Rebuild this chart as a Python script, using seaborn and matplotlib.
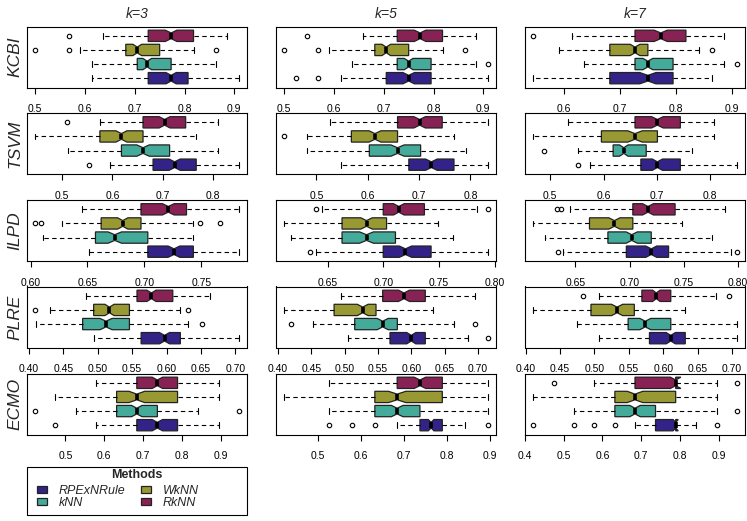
import matplotlib
matplotlib.use("Agg")
import matplotlib.pyplot as plt
from matplotlib.patches import Patch, Rectangle
from matplotlib.ticker import MultipleLocator, FormatStrFormatter
import seaborn as sns
import numpy as np

methods = ["RPExNRule", "kNN", "WkNN", "RkNN"]
datasets = ["KCBI", "TSVM", "ILPD", "PLRE", "ECMO"]
k_values = [3, 5, 7]
tick_step = [0.1, 0.1, 0.05, 0.05, 0.1]
tick_fmt = ["%.1f", "%.1f", "%.2f", "%.2f", "%.1f"]

# one row per method (RPExNRule, kNN, WkNN, RkNN):
# whisker low, Q1, median, Q3, whisker high, outliers
kcbi_k3 = [(0.614, 0.727, 0.773, 0.807, 0.909, []),
           (0.614, 0.705, 0.725, 0.773, 0.864, []),
           (0.591, 0.682, 0.705, 0.750, 0.818, [0.500, 0.568, 0.864]),
           (0.636, 0.727, 0.773, 0.818, 0.886, [0.568])]
kcbi_k5 = [(0.614, 0.705, 0.750, 0.795, 0.909, [0.523, 0.568]),
           (0.636, 0.727, 0.750, 0.795, 0.886, [0.909]),
           (0.591, 0.682, 0.705, 0.750, 0.818, [0.500, 0.568, 0.864]),
           (0.659, 0.727, 0.773, 0.818, 0.886, [0.545])]
kcbi_k7 = [(0.545, 0.682, 0.750, 0.795, 0.864, []),
           (0.636, 0.727, 0.750, 0.795, 0.886, [0.909]),
           (0.591, 0.682, 0.727, 0.750, 0.841, [0.864]),
           (0.614, 0.727, 0.773, 0.818, 0.886, [0.545])]

tsvm_k3 = [(0.595, 0.681, 0.724, 0.767, 0.852, [0.553]),
           (0.512, 0.618, 0.661, 0.714, 0.810, []),
           (0.446, 0.575, 0.618, 0.661, 0.767, []),
           (0.575, 0.661, 0.704, 0.746, 0.810, [0.510])]
tsvm_k5 = [(0.547, 0.680, 0.724, 0.768, 0.834, []),
           (0.481, 0.603, 0.658, 0.703, 0.791, []),
           (0.481, 0.568, 0.614, 0.658, 0.768, [0.437]),
           (0.526, 0.658, 0.701, 0.745, 0.834, [])]
tsvm_k7 = [(0.575, 0.670, 0.701, 0.744, 0.850, [0.553]),
           (0.553, 0.618, 0.638, 0.680, 0.766, [0.489]),
           (0.468, 0.596, 0.659, 0.701, 0.808, []),
           (0.533, 0.659, 0.701, 0.744, 0.808, [])]

ilpd_k3 = [(0.651, 0.703, 0.726, 0.743, 0.783, []),
           (0.611, 0.657, 0.674, 0.703, 0.743, []),
           (0.628, 0.662, 0.681, 0.697, 0.743, [0.604, 0.609, 0.749, 0.766]),
           (0.645, 0.697, 0.721, 0.737, 0.783, [])]
ilpd_k5 = [(0.640, 0.700, 0.720, 0.743, 0.794, [0.634]),
           (0.617, 0.663, 0.685, 0.711, 0.763, []),
           (0.611, 0.663, 0.685, 0.703, 0.749, []),
           (0.645, 0.700, 0.714, 0.737, 0.784, [0.640, 0.794])]
ilpd_k7 = [(0.639, 0.697, 0.720, 0.736, 0.794, [0.634, 0.799]),
           (0.622, 0.680, 0.702, 0.720, 0.776, []),
           (0.611, 0.663, 0.686, 0.703, 0.748, []),
           (0.645, 0.703, 0.717, 0.742, 0.788, [0.633, 0.637])]

plre_k3 = [(0.494, 0.563, 0.597, 0.620, 0.705, []),
           (0.410, 0.478, 0.512, 0.546, 0.631, [0.652]),
           (0.430, 0.494, 0.517, 0.546, 0.619, [0.409, 0.631]),
           (0.483, 0.557, 0.578, 0.609, 0.663, [])]
plre_k5 = [(0.505, 0.568, 0.600, 0.621, 0.685, [0.715]),
           (0.452, 0.515, 0.557, 0.579, 0.664, [0.420, 0.695]),
           (0.409, 0.484, 0.527, 0.547, 0.632, []),
           (0.494, 0.557, 0.589, 0.621, 0.695, [])]
plre_k7 = [(0.506, 0.580, 0.611, 0.632, 0.707, []),
           (0.475, 0.549, 0.574, 0.611, 0.707, []),
           (0.411, 0.495, 0.533, 0.558, 0.632, []),
           (0.506, 0.569, 0.590, 0.611, 0.676, [0.484, 0.695])]

ecmo_k3 = [(0.579, 0.684, 0.737, 0.789, 0.895, [0.474]),
           (0.526, 0.632, 0.684, 0.737, 0.842, [0.422, 0.947]),
           (0.474, 0.632, 0.684, 0.789, 0.895, []),
           (0.579, 0.684, 0.737, 0.789, 0.895, [])]
ecmo_k5 = [(0.684, 0.737, 0.763, 0.789, 0.842, [0.526, 0.579, 0.632, 0.895]),
           (0.526, 0.632, 0.684, 0.737, 0.895, []),
           (0.421, 0.632, 0.684, 0.789, 0.895, []),
           (0.526, 0.684, 0.737, 0.789, 0.895, [])]
ecmo_k7 = [(0.684, 0.737, 0.789, 0.789, 0.842, [0.421, 0.526, 0.579, 0.632, 0.895]),
           (0.526, 0.632, 0.684, 0.737, 0.895, [0.947]),
           (0.421, 0.632, 0.684, 0.789, 0.895, []),
           (0.579, 0.684, 0.789, 0.789, 0.895, [0.474, 0.947])]

panels = {
    "KCBI": [kcbi_k3, kcbi_k5, kcbi_k7],
    "TSVM": [tsvm_k3, tsvm_k5, tsvm_k7],
    "ILPD": [ilpd_k3, ilpd_k5, ilpd_k7],
    "PLRE": [plre_k3, plre_k5, plre_k7],
    "ECMO": [ecmo_k3, ecmo_k5, ecmo_k7],
}
n_runs = 150  # used for the notch width, as R does

sns.set_style("ticks")
palette = sns.color_palette(["#332288", "#44AA99", "#999933", "#882255"])
plt.rcParams["font.family"] = ["Liberation Sans", "DejaVu Sans"]

W, H = 747, 521
fig = plt.figure(figsize=(W / 100, H / 100), dpi=100)
col_left = [27, 276, 525]
row_top = [26.5, 113, 200, 286.5, 373.5]
pw, ph = 220, 61

for i, name in enumerate(datasets):
    for j, k in enumerate(k_values):
        ax = fig.add_axes([col_left[j] / W, 1 - (row_top[i] + ph) / H, pw / W, ph / H])
        stats = []
        for lo, q1, med, q3, hi, fl in panels[name][j]:
            half = 1.58 * (q3 - q1) / np.sqrt(n_runs)
            stats.append(dict(whislo=lo, q1=q1, med=med, q3=q3, whishi=hi,
                              fliers=fl, cilo=med - half, cihi=med + half))
        art = ax.bxp(stats, positions=[1, 2, 3, 4], widths=0.8,
                     orientation="horizontal", shownotches=True, patch_artist=True,
                     boxprops=dict(edgecolor="#222222", linewidth=0.9),
                     whiskerprops=dict(color="black", linestyle=(0, (4, 3)), linewidth=0.8),
                     capprops=dict(color="black", linewidth=0.8),
                     medianprops=dict(color="black", linewidth=2.6, solid_capstyle="butt"),
                     flierprops=dict(marker="o", markersize=3.2, markerfacecolor="none",
                                     markeredgecolor="black", markeredgewidth=0.8))
        for box, c in zip(art["boxes"], palette):
            box.set_facecolor(c)

        vals = [v for row in panels[name][j] for v in row[:5] + tuple(row[5])]
        lo, hi = min(vals), max(vals)
        pad = 0.04 * (hi - lo)
        ax.set_xlim(lo - pad, hi + pad)
        ax.set_ylim(0.34, 4.66)
        ax.set_yticks([])
        ax.xaxis.set_major_locator(MultipleLocator(tick_step[i]))
        ax.xaxis.set_major_formatter(FormatStrFormatter(tick_fmt[i]))
        ax.tick_params(axis="x", length=4, width=0.8, pad=8, labelsize=7.5,
                       color="black", labelcolor="black")
        for s in ax.spines.values():
            s.set_color("black")
            s.set_linewidth(0.8)

        if i == 0:
            fig.text((col_left[j] + pw / 2) / W, 1 - 14 / H, f"k={k}",
                     ha="center", va="center", fontsize=10, style="italic")
    fig.text(15 / W, 1 - (row_top[i] + ph / 2) / H, name, rotation=90,
             ha="center", va="center", fontsize=12.5, style="italic")

# legend: frame and title drawn by hand so the columns sit as in the original
fig.add_artist(Rectangle((27 / W, 1 - 515 / H), 220 / W, 48 / H, transform=fig.transFigure,
                         fill=False, edgecolor="black", linewidth=0.8))
fig.text(137 / W, 1 - 475 / H, "Methods", ha="center", va="center",
         fontsize=9, fontweight="bold")
handles = [Patch(facecolor=c, edgecolor="#222222", linewidth=0.9) for c in palette]
leg = fig.legend(handles, methods, ncol=2, loc="upper left",
                 bbox_to_anchor=(37 / W, 1 - 484.5 / H), frameon=False, fontsize=9,
                 handlelength=0.8, handleheight=0.5, handletextpad=0.95,
                 labelspacing=0.05, borderpad=0, columnspacing=1.2, borderaxespad=0)
for t in leg.get_texts():
    t.set_fontstyle("italic")

fig.savefig("out.png", dpi=100)
